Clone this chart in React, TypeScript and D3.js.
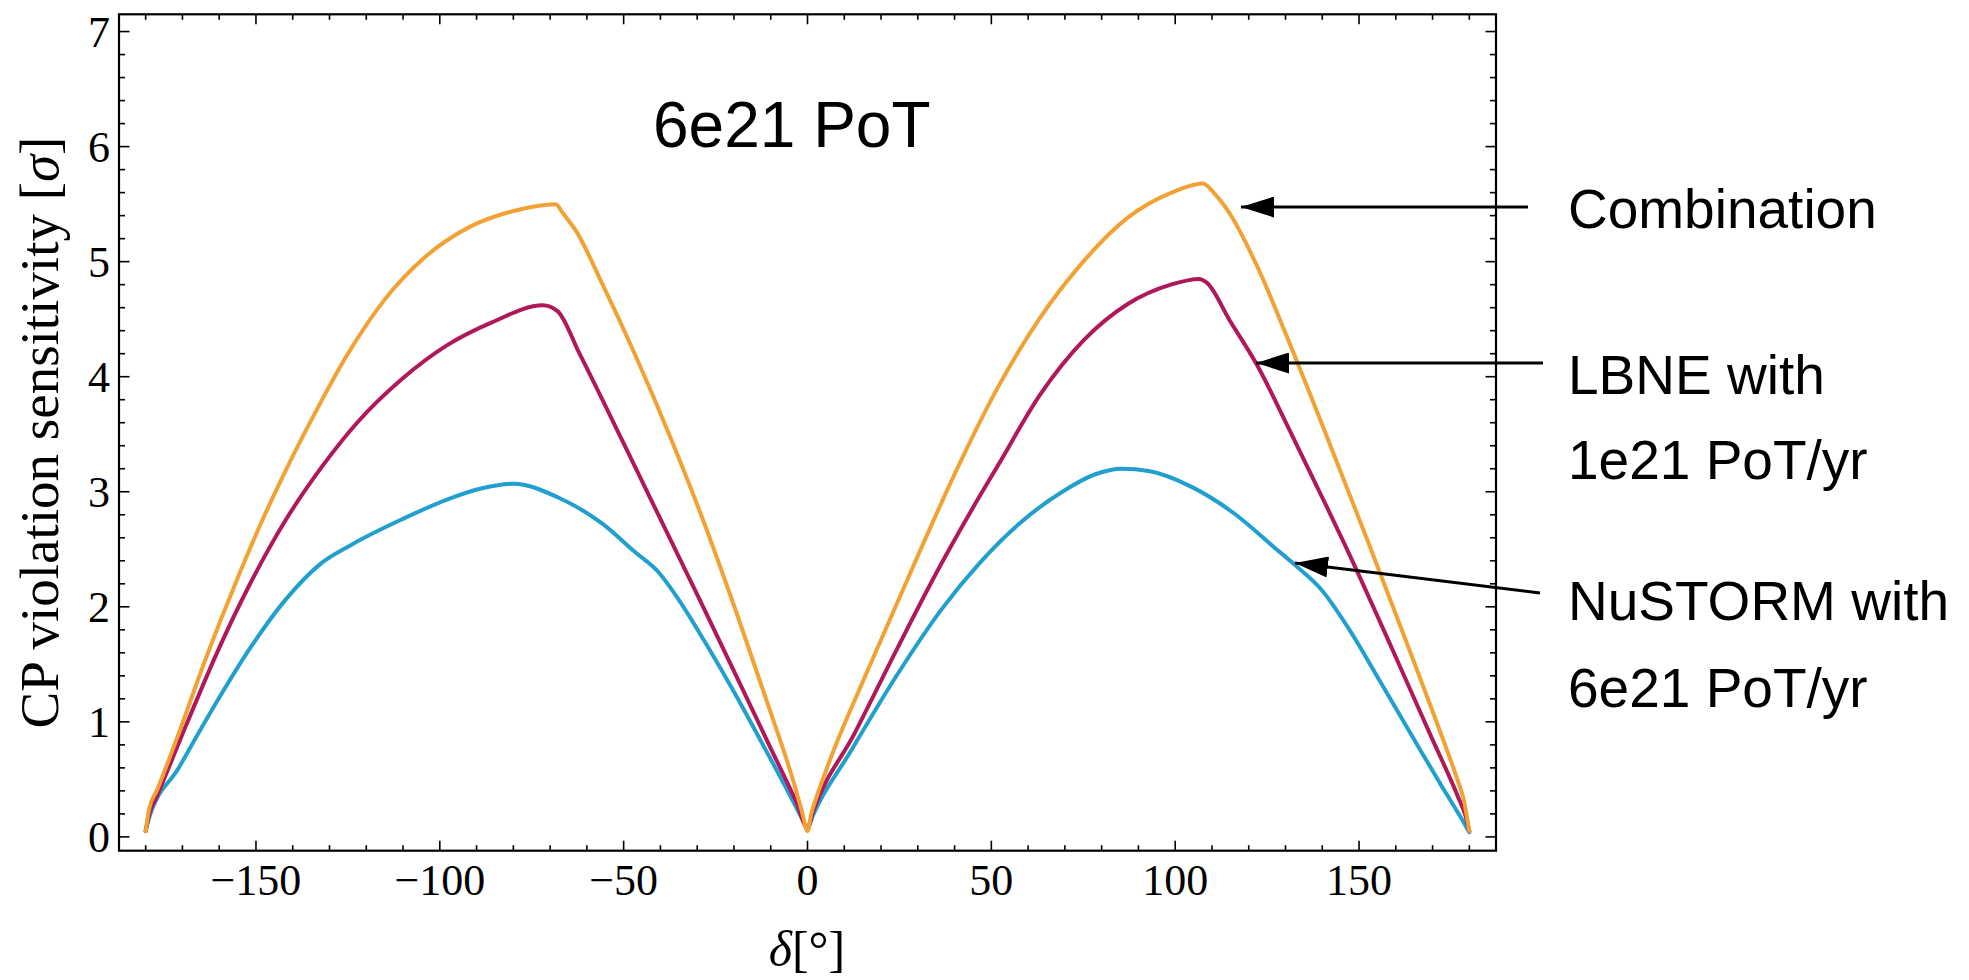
import React from 'react';
import * as d3 from 'd3';

// CP violation sensitivity vs delta
const combDelta = [-180, -179, -177, -171, -164, -156, -149, -142, -135, -125, -115, -104, -92, -80, -68.5, -66.5, -63, -56, -47, -37, -28, -19, -10, -4, -1.5, 0,
  1, 2.5, 6, 16, 26, 33, 41, 52, 63, 75, 87, 99, 107.5, 111, 115, 122, 131, 141, 153, 164, 172, 176.5, 178.5, 180];
const combSigma = [0.05, 0.25, 0.4, 0.9, 1.52, 2.17, 2.7, 3.18, 3.62, 4.2, 4.67, 5.04, 5.3, 5.44, 5.5, 5.42, 5.27, 4.82, 4.2, 3.45, 2.72, 1.92, 1.08, 0.5, 0.22, 0.05,
  0.2, 0.35, 0.66, 1.42, 2.15, 2.66, 3.22, 3.92, 4.5, 5.0, 5.38, 5.6, 5.68, 5.58, 5.41, 4.98, 4.3, 3.5, 2.52, 1.6, 0.92, 0.52, 0.32, 0.05];

const lbneDelta = [-180, -179, -177, -168.6, -161.3, -151.6, -142, -132, -122.5, -110.3, -98.2, -86, -72, -68, -62, -50, -43, -37.5, -29, -20, -10, -3, 0,
  1.5, 12.8, 24.6, 36.5, 46.8, 52, 63.4, 75.2, 87, 98.8, 106.5, 108.5, 115, 122.3, 131.2, 140, 146, 159.2, 169.5, 176.9, 179, 180];
const lbneSigma = [0.05, 0.2, 0.35, 1.0, 1.55, 2.2, 2.75, 3.22, 3.6, 3.98, 4.27, 4.47, 4.62, 4.57, 4.2, 3.42, 2.96, 2.6, 2.04, 1.44, 0.77, 0.3, 0.08,
  0.22, 0.9, 1.65, 2.38, 2.96, 3.24, 3.85, 4.32, 4.63, 4.8, 4.85, 4.82, 4.48, 4.1, 3.53, 2.95, 2.55, 1.62, 0.88, 0.35, 0.18, 0.05];

const nuDelta = [-180, -179.5, -171, -161.3, -151.6, -142, -132.2, -124, -110.3, -98.2, -88.5, -80, -67.8, -55.7, -47.1, -40.5, -35, -28, -20.7, -13.3, -5.9, -1.5, 0,
  1.4, 11.3, 24.6, 36.5, 46.8, 57.5, 69.3, 78.1, 85.5, 92.8, 104.6, 116.5, 126.8, 132.7, 140, 147.4, 156.3, 165.1, 172.5, 178.4, 180];
const nuSigma = [0.05, 0.12, 0.6, 1.14, 1.64, 2.06, 2.38, 2.54, 2.76, 2.93, 3.03, 3.07, 2.95, 2.72, 2.48, 2.3, 2.06, 1.7, 1.3, 0.87, 0.43, 0.16, 0.07,
  0.18, 0.72, 1.42, 1.98, 2.38, 2.72, 3.0, 3.15, 3.2, 3.18, 3.04, 2.8, 2.52, 2.36, 2.14, 1.8, 1.32, 0.84, 0.44, 0.13, 0.04];

const xTickValues = [-150, -100, -50, 0, 50, 100, 150];
const yTickValues = [0, 1, 2, 3, 4, 5, 6, 7];

const labelLines = ['Combination', 'LBNE with', '1e21 PoT/yr', 'NuSTORM with', '6e21 PoT/yr'];

const W = 1969;
const H = 980;
const left = 119, right = 1496, top = 14.3, bottom = 850.7;

export default function App() {
  const x = d3.scaleLinear().domain([-187.25, 187.25]).range([left, right]);
  const y = d3.scaleLinear().domain([-0.12, 7.15]).range([bottom, top]);

  const line = d3.line<[number, number]>()
    .x(d => x(d[0]))
    .y(d => y(d[1]))
    .curve(d3.curveMonotoneX);

  const series = [
    { name: 'nustorm', d: nuDelta, s: nuSigma, color: '#21A0CF' },
    { name: 'lbne', d: lbneDelta, s: lbneSigma, color: '#B0185A' },
    { name: 'comb', d: combDelta, s: combSigma, color: '#F2A235' },
  ];

  const xMinor = d3.range(-180, 181, 10).filter(v => v % 50 !== 0);
  const yMinor = d3.range(0, 36).map(i => i / 5).filter(v => Math.abs(v - Math.round(v)) > 1e-6);

  const serif = '"Liberation Serif", "Times New Roman", serif';
  const sans = '"Liberation Sans", Arial, sans-serif';

  // arrow: from label end back to the curve
  const arrows = [
    { x1: 1528, y1: 207, x2: 1241, y2: 207 },
    { x1: 1543, y1: 363, x2: 1256, y2: 363 },
    { x1: 1540, y1: 593, x2: 1295, y2: 563 },
  ];
  const labelY = [228, 394, 479, 620, 707];

  return (
    <svg width={W} height={H} style={{ position: 'absolute', left: 0, top: 0, background: '#fff' }}>
      <rect x={0} y={0} width={W} height={H} fill="#fff" />

      {/* curves */}
      <g fill="none" strokeWidth={4} strokeLinejoin="round" strokeLinecap="round">
        {series.map(sr => (
          <path key={sr.name} d={line(sr.d.map((v, i) => [v, sr.s[i]]) as [number, number][]) || ''} stroke={sr.color} />
        ))}
      </g>

      {/* frame */}
      <rect x={left} y={top} width={right - left} height={bottom - top} fill="none" stroke="#000" strokeWidth={2.2} />

      {/* ticks */}
      <g stroke="#000" strokeWidth={1.6}>
        {xTickValues.map(v => (
          <g key={'xM' + v}>
            <line x1={x(v)} x2={x(v)} y1={bottom} y2={bottom - 10} />
            <line x1={x(v)} x2={x(v)} y1={top} y2={top + 10} />
          </g>
        ))}
        {xMinor.map(v => (
          <g key={'xm' + v}>
            <line x1={x(v)} x2={x(v)} y1={bottom} y2={bottom - 5.5} />
            <line x1={x(v)} x2={x(v)} y1={top} y2={top + 5.5} />
          </g>
        ))}
        {yTickValues.map(v => (
          <g key={'yM' + v}>
            <line x1={left} x2={left + 10.5} y1={y(v)} y2={y(v)} />
            <line x1={right} x2={right - 10.5} y1={y(v)} y2={y(v)} />
          </g>
        ))}
        {yMinor.map(v => (
          <g key={'ym' + v}>
            <line x1={left} x2={left + 6} y1={y(v)} y2={y(v)} />
            <line x1={right} x2={right - 6} y1={y(v)} y2={y(v)} />
          </g>
        ))}
      </g>

      {/* tick labels */}
      <g fontFamily={serif} fontSize={44} fill="#000">
        {xTickValues.map(v => (
          <text key={'xl' + v} x={x(v)} y={895} textAnchor="middle">{v < 0 ? '\u2212' + Math.abs(v) : String(v)}</text>
        ))}
        {yTickValues.map(v => (
          <text key={'yl' + v} x={110} y={y(v) + 15} textAnchor="end">{v}</text>
        ))}
      </g>

      {/* axis titles */}
      <text x={807} y={966} textAnchor="middle" fontFamily={serif} fontSize={50}>
        <tspan fontStyle="italic">δ</tspan>[°]
      </text>
      <text transform={`translate(58, ${(top + bottom) / 2}) rotate(-90)`} textAnchor="middle" fontFamily={serif} fontSize={55}>
        CP violation sensitivity [<tspan fontStyle="italic">σ</tspan>]
      </text>

      {/* in-plot title */}
      <text x={653} y={147} fontFamily={sans} fontSize={64}>6e21 PoT</text>

      {/* annotations */}
      <defs>
        <marker id="ah" viewBox="0 0 11 7" refX={11} refY={3.5} markerWidth={11} markerHeight={7} markerUnits="strokeWidth" orient="auto">
          <path d="M0,0 L11,3.5 L0,7 Z" fill="#000" />
        </marker>
      </defs>
      <g stroke="#000" strokeWidth={3}>
        {arrows.map((a, i) => (
          <line key={'ar' + i} x1={a.x1} y1={a.y1} x2={a.x2} y2={a.y2} markerEnd="url(#ah)" />
        ))}
      </g>
      <g fontFamily={sans} fontSize={55} fill="#000">
        {labelLines.map((t, i) => (
          <text key={t} x={1568} y={labelY[i]}>{t}</text>
        ))}
      </g>
    </svg>
  );
}
